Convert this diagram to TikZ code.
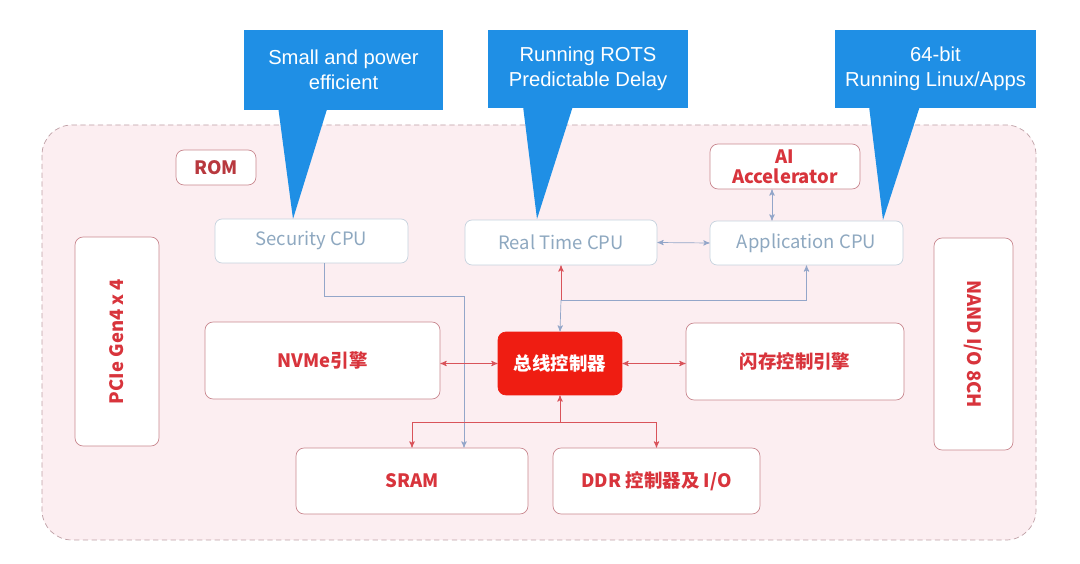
\documentclass[tikz,border=0pt]{standalone}
\usepackage{fontspec}
\setmainfont{Noto Sans CJK SC}
\newfontfamily\tipfont{Liberation Sans}
\usepackage{tikz}
\usetikzlibrary{arrows}

\definecolor{chipbg}{HTML}{FCEEF1}
\definecolor{chipedge}{HTML}{BFA0A6}
\definecolor{boxedge}{HTML}{C98890}
\definecolor{boxtext}{HTML}{D8343C}
\definecolor{romtext}{HTML}{B8383E}
\definecolor{cpuedge}{HTML}{C6D2DE}
\definecolor{cputext}{HTML}{8EA8C0}
\definecolor{tipblue}{HTML}{1F8FE5}
\definecolor{busred}{HTML}{EF1D12}
\definecolor{wirered}{HTML}{D9535A}
\definecolor{wireblue}{HTML}{93A6C9}

\begin{document}
\begin{tikzpicture}[x=0.02cm, y=-0.02cm, >=stealth', font=\fontsize{10.5}{12}\selectfont]
    \tikzstyle{block}=[rectangle, rounded corners=0.16cm, draw=boxedge, fill=white, text=boxtext, font=\fontsize{10.5}{12}\selectfont\bfseries, align=center, inner sep=2pt]
    \tikzstyle{cpu}=[rectangle, rounded corners=0.14cm, draw=cpuedge, fill=white, text=cputext, minimum width=3.86cm, minimum height=0.88cm]
    \tikzstyle{callout}=[rectangle, fill=tipblue, text=white, align=center, font=\tipfont\fontsize{11.5}{14}\selectfont]
    \tikzstyle{redwire}=[draw=wirered, thin]
    \tikzstyle{bluewire}=[draw=wireblue, thin]

    % page and chip outline
    \fill[white] (0,0) rectangle (1080,564);
    \draw[chipedge, fill=chipbg, dash pattern=on 3pt off 2pt, rounded corners=0.6cm] (42,125) rectangle (1036,540);

    % callouts
    \node[callout, minimum width=3.98cm, minimum height=1.6cm] (tip1) at (343.5,70) {Small and power\\efficient};
    \node[callout, minimum width=4.0cm, minimum height=1.56cm] (tip2) at (588,69) {Running ROTS\\Predictable Delay};
    \node[callout, minimum width=4.02cm, minimum height=1.56cm] (tip3) at (935.5,69) {64-bit\\Running Linux/Apps};
    \fill[tipblue] (278,106) -- (293,219) -- (328,106) -- cycle;
    \fill[tipblue] (523,106) -- (537,219) -- (573,106) -- cycle;
    \fill[tipblue] (869,106) -- (883,220) -- (920,106) -- cycle;

    % blocks
    \node[block, text=romtext, minimum width=1.6cm, minimum height=0.7cm] (rom) at (216,167.5) {ROM};
    \node[block, minimum width=3.0cm, minimum height=0.9cm, inner sep=1pt, font=\fontsize{10.5}{11.5}\selectfont\bfseries] (ai) at (785,166.5) {AI\\Accelerator};
    \node[cpu] (sec) at (311.5,241) {Security CPU};
    \node[cpu, minimum width=3.84cm, minimum height=0.9cm] (rt) at (561,242.5) {Real Time CPU};
    \node[cpu] (app) at (806.5,243) {Application CPU};
    \node[block, rotate=90, minimum width=4.18cm, minimum height=1.68cm] (pcie) at (117,341.5) {PCIe Gen4 x 4};
    \node[block, rotate=-90, minimum width=4.24cm, minimum height=1.58cm] (nand) at (973.5,344) {NAND I/O 8CH};
    \node[block, minimum width=4.7cm, minimum height=1.54cm] (nvme) at (322.5,360.5) {NVMe引擎};
    \node[block, draw=busred, fill=busred, text=white, minimum width=2.48cm, minimum height=1.26cm] (bus) at (560,363.5) {总线控制器};
    \node[block, minimum width=4.36cm, minimum height=1.54cm] (flash) at (795,361.5) {闪存控制引擎};
    \node[block, minimum width=4.64cm, minimum height=1.32cm] (sram) at (412,481) {SRAM};
    \node[block, minimum width=4.14cm, minimum height=1.32cm] (ddr) at (656.5,481) {DDR 控制器及 I/O};

    % junctions
    \coordinate (j1) at (561,300);
    \coordinate (j2) at (560,422);
    \coordinate (s1) at (464,296);

    % connectors
    \draw[bluewire, <->] (rt.east) -- (app.west);
    \draw[bluewire, <->] ([xshift=-0.26cm]ai.south) -- ([xshift=-0.26cm]ai.south |- app.north);
    \draw[redwire, ->] (j1) -- (rt.south);
    \draw[bluewire, ->] (j1) -- (bus.north);
    \draw[bluewire, ->] (j1) -| (app.south);
    \draw[bluewire, ->] ([xshift=0.25cm]sec.south) |- (s1) -- (s1 |- sram.north);
    \draw[redwire, <->] (bus.west -| nvme.east) -- (bus.west);
    \draw[redwire, <->] (bus.east) -- (bus.east -| flash.west);
    \draw[redwire, ->] (j2) -- (bus.south);
    \draw[redwire, ->] (j2) -| (sram.north);
    \draw[redwire, ->] (j2) -| (ddr.north);

\end{tikzpicture}
\end{document}
